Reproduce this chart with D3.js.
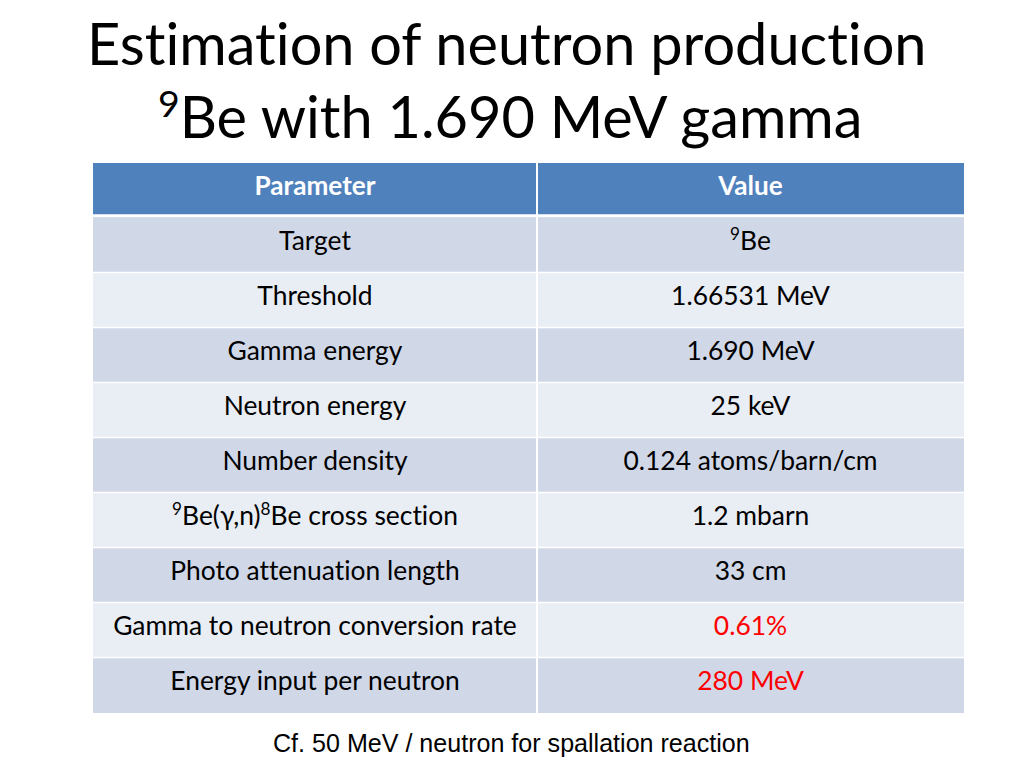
<!DOCTYPE html>
<html><head><meta charset="utf-8">
<script src="https://cdn.jsdelivr.net/npm/d3@7"></script>
<style>html,body{margin:0;padding:0;background:#fff;}
text,tspan{font-variant-ligatures:none;font-feature-settings:"liga" 0,"clig" 0;}</style>
</head><body>
<svg id="c" width="1024" height="768"></svg>
<script>
// ---- data ----
const titleLines = ["Estimation of neutron production", "{9}Be with 1.690 MeV gamma"];
const headers = ["Parameter", "Value"];
const parameters = ["Target", "Threshold", "Gamma energy", "Neutron energy", "Number density",
  "{9}Be(\u03B3,n){8}Be cross section", "Photo attenuation length",
  "Gamma to neutron conversion rate", "Energy input per neutron"];
const values = ["{9}Be", "1.66531 MeV", "1.690 MeV", "25 keV", "0.124 atoms/barn/cm",
  "1.2 mbarn", "33 cm", "0.61%", "280 MeV"];
const highlighted = [false, false, false, false, false, false, false, true, true];
const note = "Cf. 50 MeV / neutron for spallation reaction";

// ---- layout ----
const svg = d3.select("#c");
const FONT = "Lato, 'Open Sans', sans-serif";
const NOTEFONT = "'Liberation Sans', Arial, sans-serif";

function parseRich(s) {
  const parts = [];
  const re = /\{([^}]*)\}|([^{]+)/g;
  let m;
  while ((m = re.exec(s))) {
    if (m[1] !== undefined) parts.push({t: m[1], sup: true});
    else parts.push({t: m[2], sup: false});
  }
  return parts;
}
function richText(sel, s, size) {
  sel.selectAll("tspan").remove();
  const parts = parseRich(s);
  let prevSup = false;
  parts.forEach(p => {
    const ts = sel.append("tspan").text(p.t);
    if (p.sup) {
      ts.attr("font-size", size * 0.65).attr("dy", -size * 0.36);
      prevSup = true;
    } else {
      ts.attr("font-size", size);
      if (prevSup) ts.attr("dy", size * 0.36);
      prevSup = false;
    }
  });
}
function measure(s, size, weight, font) {
  const t = svg.append("text").attr("font-family", font).attr("font-weight", weight || "normal");
  richText(t, s, size);
  const w = t.node().getComputedTextLength();
  t.remove();
  return w;
}
function fitSize(s, targetW, weight, font) {
  const base = 40;
  return base * targetW / measure(s, base, weight, font);
}

// Title
const titleSize = (fitSize(titleLines[0], 845, "normal", FONT) + fitSize(titleLines[1], 700, "normal", FONT)) / 2;
const titleX = [87, 158];
const titleY = [65, 138];
titleLines.forEach((l, i) => {
  const t = svg.append("text").attr("x", titleX[i]).attr("y", titleY[i])
    .attr("font-family", FONT).attr("fill", "#000");
  richText(t, l, titleSize);
});

// Table
const colEdges = [93, 537, 964];
const y = d3.scaleBand().domain(d3.range(parameters.length + 1)).range([163, 713]).paddingInner(0);
const colCenter = i => (colEdges[i] + colEdges[i + 1]) / 2;
const bodySize = fitSize(parameters[7], 404, "normal", FONT);
const headSize = fitSize(headers[0], 121, "bold", FONT);

const rows = [{cells: headers, header: true}].concat(parameters.map((p, i) => ({cells: [p, values[i]], header: false, hl: highlighted[i], idx: i})));

const g = svg.append("g");
g.selectAll("rect.row").data(rows).join("rect")
  .attr("class", "row")
  .attr("x", colEdges[0]).attr("width", colEdges[2] - colEdges[0])
  .attr("y", (d, i) => y(i)).attr("height", y.bandwidth())
  .attr("fill", d => d.header ? "#4F81BD" : (d.idx % 2 === 0 ? "#D0D8E8" : "#E9EDF4"));

g.selectAll("line.sep").data(d3.range(1, rows.length)).join("line")
  .attr("x1", colEdges[0]).attr("x2", colEdges[2])
  .attr("y1", i => y(i) - (i === 1 ? 2 : 0.5)).attr("y2", i => y(i) - (i === 1 ? 2 : 0.5))
  .attr("stroke", "#fff").attr("stroke-width", i => i === 1 ? 3.5 : 1.5);
g.append("line").attr("x1", colEdges[1]).attr("x2", colEdges[1])
  .attr("y1", y(0)).attr("y2", y(rows.length - 1) + y.bandwidth())
  .attr("stroke", "#fff").attr("stroke-width", 2);

rows.forEach((r, i) => {
  r.cells.forEach((c, j) => {
    const t = g.append("text").attr("x", colCenter(j)).attr("y", y(i) + 32)
      .attr("text-anchor", "middle").attr("font-family", FONT)
      .attr("font-weight", r.header ? "bold" : "normal")
      .attr("fill", r.header ? "#fff" : (j === 1 && r.hl ? "#FF0000" : "#000"));
    richText(t, c, r.header ? headSize : bodySize);
  });
});

// Note
const noteSize = fitSize(note, 477, "normal", NOTEFONT);
svg.append("text").attr("x", 273).attr("y", 752).attr("font-family", NOTEFONT)
  .attr("font-size", noteSize).attr("fill", "#000").text(note);
</script>
</body></html>
